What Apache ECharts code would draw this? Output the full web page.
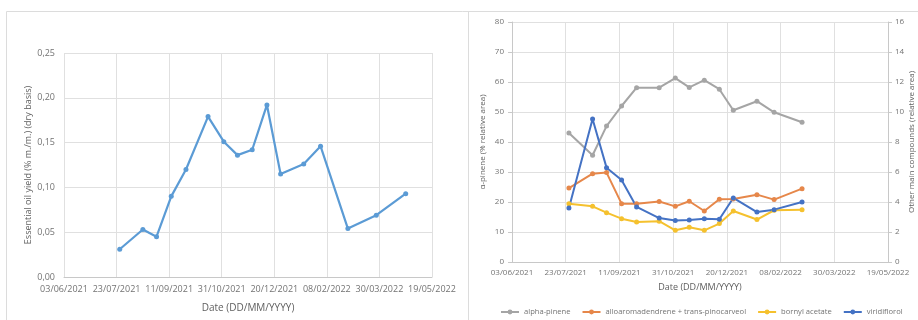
<!DOCTYPE html>
<html>
<head>
<meta charset="utf-8">
<script src="https://cdn.jsdelivr.net/npm/echarts@6/dist/echarts.min.js"></script>
<style>
html,body{margin:0;padding:0;background:#fff;}
#c{width:918px;height:320px;}
</style>
</head>
<body>
<div id="c"></div>
<script>
// ---- data ----
const sampleDates = ['2021-07-26','2021-08-17','2021-08-30','2021-09-13','2021-09-27','2021-10-18','2021-11-02','2021-11-15','2021-11-29','2021-12-13','2021-12-26','2022-01-17','2022-02-02','2022-02-28','2022-03-27','2022-04-24'];
const oilYield = [0.031,0.053,0.045,0.090,0.120,0.179,0.151,0.136,0.142,0.192,0.115,0.126,0.146,0.054,0.069,0.093];
const alphaPinene = [43.0,35.6,45.3,52.0,58.1,58.1,61.3,58.2,60.6,57.6,50.6,53.6,49.9,46.6];
const alloaromadendrene = [4.93,5.89,5.96,3.89,3.89,4.03,3.71,4.05,3.40,4.18,4.20,4.49,4.16,4.89];
const bornylAcetate = [3.89,3.71,3.29,2.89,2.67,2.72,2.11,2.31,2.11,2.56,3.40,2.83,3.45,3.48];
const viridiflorol = [3.60,9.53,6.29,5.47,3.67,2.93,2.76,2.80,2.89,2.85,4.27,3.33,3.49,4.00];
const seriesNames = ['alpha-pinene','alloaromadendrene + trans-pinocarveol','bornyl acetate','viridiflorol'];
const axisStartDate = '2021-06-03';
const axisSpanDays = 350;
const axisStepDays = 50;
const leftYTitle = 'Essential oil yield (% m./m.) (dry basis)';
const rightYTitleL = 'α-pinene (% relative area)';
const rightYTitleR = 'Other main compounds (relative area)';
const xTitle = 'Date (DD/MM/YYYY)';

// ---- helpers ----
const DAY = 86400000;
const t0 = Date.parse(axisStartDate + 'T00:00:00Z');
const toDay = s => Math.round((Date.parse(s + 'T00:00:00Z') - t0) / DAY);
const fmtDate = v => {
  const d = new Date(t0 + v * DAY);
  const p = n => String(n).padStart(2, '0');
  return p(d.getUTCDate()) + '/' + p(d.getUTCMonth() + 1) + '/' + d.getUTCFullYear();
};
const days = sampleDates.map(toDay);
const pairs = (vals) => vals.map((v, i) => [days[i], v]);

const FONT = 'Open Sans';
const LBL = '#737373';
const TTL = '#5e5e5e';
const GRID = '#e0e0e0';
const AXL = '#c8c8c8';

const chart = echarts.init(document.getElementById('c'), null, {renderer: 'canvas'});

function xAxisDef(gridIndex, fs, nameGap, labelMargin) {
  return {
    type: 'value', gridIndex, min: 0, max: axisSpanDays, interval: axisStepDays,
    name: xTitle, nameLocation: 'middle', nameGap,
    nameTextStyle: {color: TTL, fontFamily: FONT, fontSize: fs + 1},
    axisLine: {show: true, lineStyle: {color: AXL}},
    axisTick: {show: false},
    splitLine: {show: true, lineStyle: {color: GRID}},
    axisLabel: {color: LBL, fontFamily: FONT, fontSize: fs, margin: labelMargin, formatter: fmtDate, showMinLabel: true, showMaxLabel: true, hideOverlap: false}
  };
}

const option = {
  animation: false,
  backgroundColor: '#fff',
  textStyle: {fontFamily: FONT},
  graphic: [
    {type: 'line', shape: {x1: 6.5, y1: 11.5, x2: 6.5, y2: 320}, style: {stroke: '#dcdcdc', lineWidth: 1}},
    {type: 'line', shape: {x1: 6.5, y1: 11.5, x2: 918, y2: 11.5}, style: {stroke: '#dcdcdc', lineWidth: 1}},
    {type: 'line', shape: {x1: 468.5, y1: 11.5, x2: 468.5, y2: 320}, style: {stroke: '#dcdcdc', lineWidth: 1}}
  ],
  grid: [
    {left: 64, top: 53, width: 368, height: 224, containLabel: false},
    {left: 512, top: 22, width: 376, height: 240, containLabel: false}
  ],
  legend: {
    data: seriesNames,
    top: 308, left: 500, width: 418,
    itemWidth: 18, itemHeight: 6, itemGap: 11,
    padding: 0,
    textStyle: {color: LBL, fontFamily: FONT, fontSize: 7.6}
  },
  xAxis: [
    xAxisDef(0, 9, 26, 8),
    xAxisDef(1, 8, 21, 7)
  ],
  yAxis: [
    {
      type: 'value', gridIndex: 0, min: 0, max: 0.25, interval: 0.05,
      name: leftYTitle, nameLocation: 'middle', nameGap: 31, nameRotate: 90,
      nameTextStyle: {color: TTL, fontFamily: FONT, fontSize: 9},
      axisLine: {show: false}, axisTick: {show: false},
      splitLine: {lineStyle: {color: GRID}},
      axisLabel: {color: LBL, fontFamily: FONT, fontSize: 9, margin: 9, formatter: v => v.toFixed(2).replace('.', ',')}
    },
    {
      type: 'value', gridIndex: 1, min: 0, max: 80, interval: 10, position: 'left',
      name: rightYTitleL, nameLocation: 'middle', nameGap: 25, nameRotate: 90,
      nameTextStyle: {color: TTL, fontFamily: FONT, fontSize: 8},
      axisLine: {show: true, lineStyle: {color: AXL}},
      axisTick: {show: true, length: 4, lineStyle: {color: AXL}},
      splitLine: {lineStyle: {color: GRID}},
      axisLabel: {color: LBL, fontFamily: FONT, fontSize: 8, margin: 8}
    },
    {
      type: 'value', gridIndex: 1, min: 0, max: 16, interval: 2, position: 'right',
      name: rightYTitleR, nameLocation: 'middle', nameGap: 19, nameRotate: 90,
      nameTextStyle: {color: TTL, fontFamily: FONT, fontSize: 8},
      axisLine: {show: true, lineStyle: {color: AXL}},
      axisTick: {show: true, length: 4, lineStyle: {color: AXL}},
      splitLine: {show: false},
      axisLabel: {color: LBL, fontFamily: FONT, fontSize: 8, margin: 7}
    }
  ],
  series: [
    {
      type: 'line', name: 'yield', xAxisIndex: 0, yAxisIndex: 0, data: pairs(oilYield),
      symbol: 'circle', symbolSize: 5, lineStyle: {color: '#5b9bd5', width: 2.2}, itemStyle: {color: '#5b9bd5'}
    },
    {
      type: 'line', name: seriesNames[0], xAxisIndex: 1, yAxisIndex: 1, data: pairs(alphaPinene),
      symbol: 'circle', symbolSize: 5, lineStyle: {color: '#a5a5a5', width: 2}, itemStyle: {color: '#a5a5a5'}
    },
    {
      type: 'line', name: seriesNames[1], xAxisIndex: 1, yAxisIndex: 2, data: pairs(alloaromadendrene),
      symbol: 'circle', symbolSize: 5, lineStyle: {color: '#e6874a', width: 2}, itemStyle: {color: '#e6874a'}
    },
    {
      type: 'line', name: seriesNames[2], xAxisIndex: 1, yAxisIndex: 2, data: pairs(bornylAcetate),
      symbol: 'circle', symbolSize: 5, lineStyle: {color: '#f5c12e', width: 2}, itemStyle: {color: '#f5c12e'}
    },
    {
      type: 'line', name: seriesNames[3], xAxisIndex: 1, yAxisIndex: 2, data: pairs(viridiflorol),
      symbol: 'circle', symbolSize: 5, lineStyle: {color: '#4472c4', width: 2}, itemStyle: {color: '#4472c4'}
    }
  ]
};
chart.setOption(option);
</script>
</body>
</html>
